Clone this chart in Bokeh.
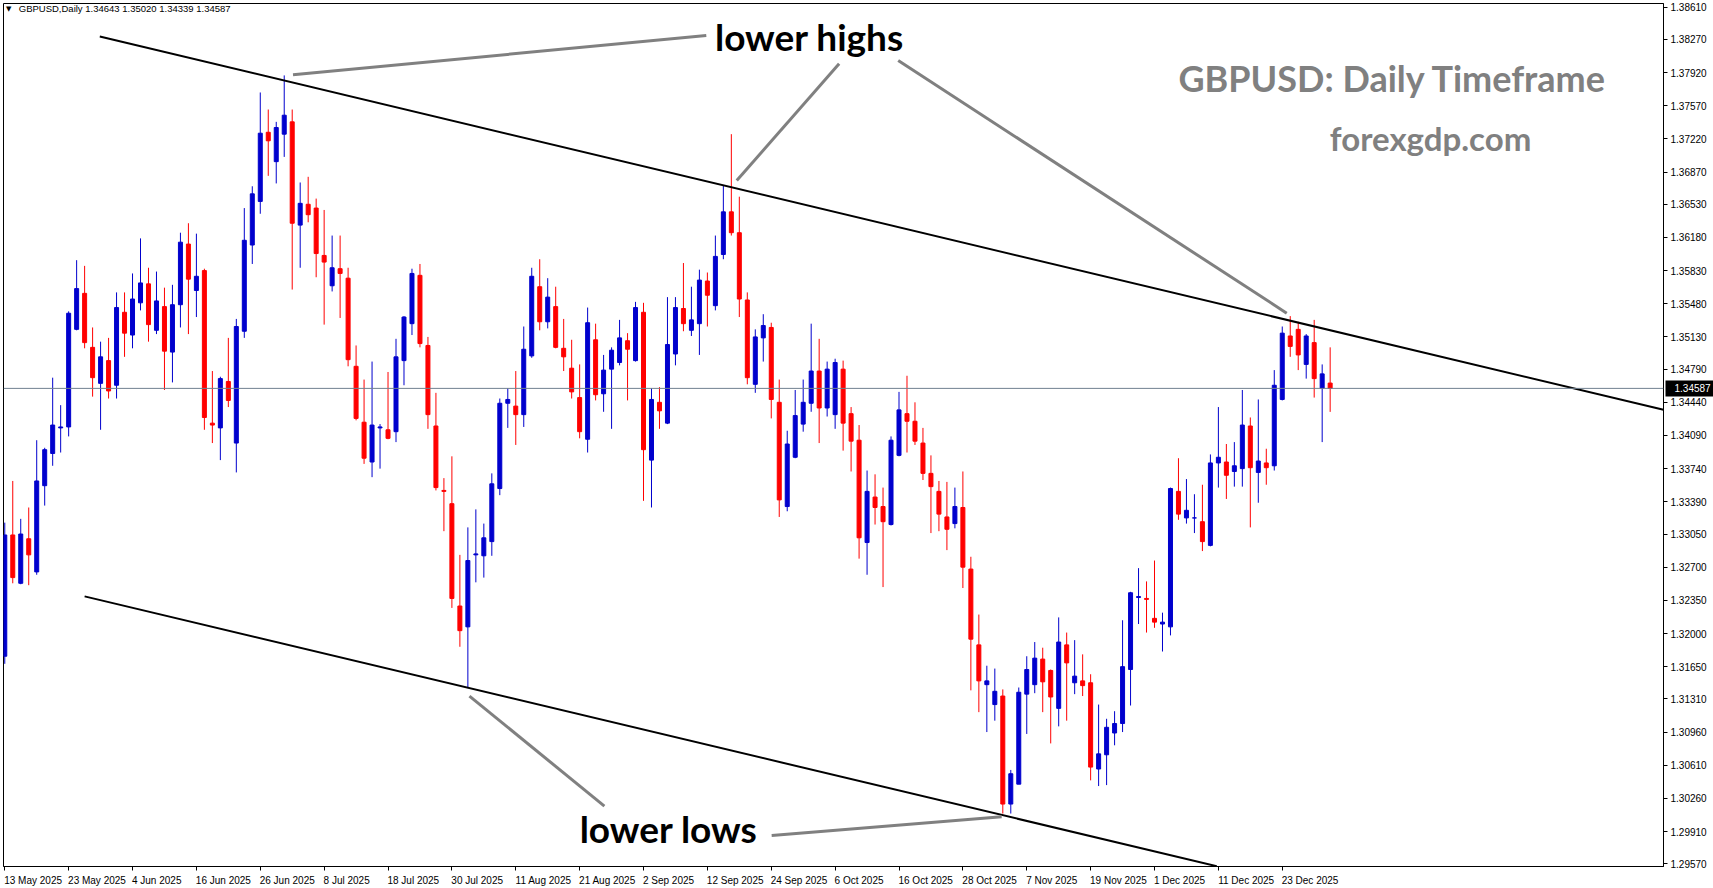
from bokeh.plotting import figure
from bokeh.models import (Range1d, FixedTicker, NumeralTickFormatter, Label, ColumnDataSource,
                          Span, LinearAxis)
from bokeh.embed import file_html
from bokeh.resources import INLINE

# ---- daily GBPUSD candles, 13 May 2025 .. 31 Dec 2025 ----
opens = [1.3176, 1.3304, 1.3253, 1.3300, 1.3265, 1.3356, 1.3390, 1.3417, 1.3418, 1.3521,
         1.3559, 1.3502, 1.3464, 1.3488, 1.3462, 1.3539, 1.3515, 1.3549, 1.3569, 1.3520,
         1.3545, 1.3497, 1.3547, 1.3611, 1.3562, 1.3583, 1.3422, 1.3417, 1.3466, 1.3401,
         1.3519, 1.3610, 1.3656, 1.3729, 1.3698, 1.3727, 1.3740, 1.3631, 1.3653, 1.3649,
         1.3599, 1.3567, 1.3585, 1.3575, 1.3482, 1.3423, 1.3381, 1.3417, 1.3415, 1.3413,
         1.3488, 1.3527, 1.3578, 1.3504, 1.3419, 1.3351, 1.3337, 1.3229, 1.3207, 1.3283,
         1.3282, 1.3297, 1.3353, 1.3443, 1.3440, 1.3431, 1.3493, 1.3566, 1.3529, 1.3545,
         1.3501, 1.3480, 1.3449, 1.3405, 1.3510, 1.3453, 1.3479, 1.3486, 1.3509, 1.3488,
         1.3539, 1.3383, 1.3444, 1.3422, 1.3495, 1.3543, 1.3520, 1.3527, 1.3572, 1.3546,
         1.3600, 1.3645, 1.3623, 1.3552, 1.3463, 1.3512, 1.3523, 1.3444, 1.3334, 1.3386,
         1.3421, 1.3443, 1.3477, 1.3438, 1.3431, 1.3479, 1.3432, 1.3404, 1.3296, 1.3344,
         1.3334, 1.3315, 1.3388, 1.3432, 1.3424, 1.3401, 1.3369, 1.3350, 1.3323, 1.3316,
         1.3333, 1.3268, 1.3188, 1.3146, 1.3125, 1.3134, 1.3020, 1.3041, 1.3136, 1.3146,
         1.3173, 1.3161, 1.3121, 1.3188, 1.3148, 1.3150, 1.3148, 1.3057, 1.3072, 1.3095,
         1.3105, 1.3162, 1.3238, 1.3237, 1.3216, 1.3210, 1.3207, 1.3350, 1.3322, 1.3322,
         1.3318, 1.3293, 1.3380, 1.3381, 1.3371, 1.3374, 1.3419, 1.3370, 1.3380, 1.3377,
         1.3447, 1.3514, 1.3521, 1.3484, 1.3507, 1.3459, 1.34643]
highs = [1.3317, 1.3361, 1.3321, 1.3333, 1.3404, 1.3396, 1.3470, 1.3441, 1.3540, 1.3594,
         1.3588, 1.3523, 1.3508, 1.3512, 1.3560, 1.3560, 1.3580, 1.3617, 1.3586, 1.3582,
         1.3565, 1.3568, 1.3623, 1.3633, 1.3622, 1.3585, 1.3477, 1.3471, 1.3512, 1.3532,
         1.3649, 1.3672, 1.3771, 1.3753, 1.3740, 1.3789, 1.3753, 1.3676, 1.3682, 1.3659,
         1.3647, 1.3620, 1.3620, 1.3586, 1.3504, 1.3468, 1.3487, 1.3421, 1.3476, 1.3511,
         1.3535, 1.3585, 1.3590, 1.3513, 1.3454, 1.3364, 1.3387, 1.3283, 1.3312, 1.3331,
         1.3316, 1.3369, 1.3448, 1.3459, 1.3477, 1.3524, 1.3586, 1.3595, 1.3575, 1.3566,
         1.3532, 1.3510, 1.3484, 1.3544, 1.3527, 1.3494, 1.3502, 1.3531, 1.3517, 1.3550,
         1.3549, 1.3459, 1.3460, 1.3555, 1.3555, 1.3591, 1.3566, 1.3584, 1.3581, 1.3620,
         1.3673, 1.3727, 1.3661, 1.3560, 1.3521, 1.3537, 1.3528, 1.3468, 1.3414, 1.3457,
         1.3468, 1.3527, 1.3511, 1.3487, 1.3490, 1.3488, 1.3439, 1.3420, 1.3372, 1.3368,
         1.3354, 1.3408, 1.3455, 1.3472, 1.3444, 1.3417, 1.3388, 1.3361, 1.3360, 1.3354,
         1.3371, 1.3281, 1.3220, 1.3166, 1.3163, 1.3141, 1.3056, 1.3143, 1.3176, 1.3191,
         1.3185, 1.3162, 1.3217, 1.3201, 1.3193, 1.3178, 1.3157, 1.3125, 1.3110, 1.3118,
         1.3214, 1.3244, 1.3269, 1.3255, 1.3277, 1.3222, 1.3354, 1.3385, 1.3363, 1.3347,
         1.3357, 1.3389, 1.3439, 1.3400, 1.3402, 1.3457, 1.3428, 1.3447, 1.3395, 1.3478,
         1.3524, 1.3535, 1.3529, 1.3516, 1.3531, 1.3484, 1.35020]
lows = [1.3168, 1.3253, 1.3252, 1.3251, 1.3262, 1.3335, 1.3377, 1.3391, 1.3408, 1.3520,
        1.3501, 1.3450, 1.3415, 1.3448, 1.3448, 1.3492, 1.3501, 1.3541, 1.3508, 1.3516,
        1.3457, 1.3465, 1.3523, 1.3516, 1.3534, 1.3415, 1.3401, 1.3383, 1.3439, 1.3370,
        1.3512, 1.3590, 1.3643, 1.3683, 1.3675, 1.3703, 1.3563, 1.3586, 1.3634, 1.3576,
        1.3526, 1.3561, 1.3533, 1.3482, 1.3425, 1.3379, 1.3365, 1.3374, 1.3405, 1.3402,
        1.3462, 1.3515, 1.3502, 1.3416, 1.3351, 1.3308, 1.3227, 1.3186, 1.3143, 1.3254,
        1.3259, 1.3282, 1.3346, 1.3417, 1.3399, 1.3418, 1.3491, 1.3520, 1.3522, 1.3501,
        1.3477, 1.3448, 1.3406, 1.3391, 1.3446, 1.3434, 1.3416, 1.3483, 1.3446, 1.3487,
        1.3340, 1.3333, 1.3416, 1.3421, 1.3483, 1.3519, 1.3514, 1.3494, 1.3524, 1.3541,
        1.3595, 1.3620, 1.3534, 1.3463, 1.3454, 1.3487, 1.3427, 1.3323, 1.3329, 1.3385,
        1.3413, 1.3434, 1.3401, 1.3429, 1.3416, 1.3393, 1.3371, 1.3279, 1.3262, 1.3315,
        1.3249, 1.3314, 1.3387, 1.3391, 1.3399, 1.3362, 1.3306, 1.3308, 1.3288, 1.3311,
        1.3248, 1.3140, 1.3117, 1.3096, 1.3108, 1.3010, 1.3010, 1.3041, 1.3094, 1.3137,
        1.3117, 1.3084, 1.3102, 1.3108, 1.3136, 1.3134, 1.3045, 1.3039, 1.3040, 1.3082,
        1.3096, 1.3124, 1.3210, 1.3201, 1.3206, 1.3181, 1.3198, 1.3320, 1.3316, 1.3306,
        1.3287, 1.3292, 1.3354, 1.3342, 1.3355, 1.3355, 1.3312, 1.3338, 1.3357, 1.3372,
        1.3446, 1.3492, 1.3478, 1.3469, 1.3449, 1.3402, 1.34339]
closes = [1.3304, 1.3259, 1.3305, 1.3283, 1.3361, 1.3394, 1.3420, 1.3418, 1.3538, 1.3564,
          1.3507, 1.3470, 1.3492, 1.3456, 1.3544, 1.3517, 1.3553, 1.3570, 1.3526, 1.3551,
          1.3498, 1.3547, 1.3613, 1.3574, 1.3577, 1.3428, 1.3420, 1.3469, 1.3446, 1.3524,
          1.3615, 1.3664, 1.3728, 1.3720, 1.3734, 1.3747, 1.3633, 1.3654, 1.3642, 1.3601,
          1.3592, 1.3586, 1.3580, 1.3489, 1.3427, 1.3385, 1.3420, 1.3418, 1.3406, 1.3492,
          1.3534, 1.3580, 1.3506, 1.3431, 1.3354, 1.3350, 1.3237, 1.3203, 1.3277, 1.3284,
          1.3301, 1.3358, 1.3443, 1.3447, 1.3431, 1.3500, 1.3577, 1.3529, 1.3555, 1.3502,
          1.3492, 1.3455, 1.3413, 1.3528, 1.3452, 1.3478, 1.3499, 1.3512, 1.3500, 1.3544,
          1.3394, 1.3447, 1.3435, 1.3505, 1.3544, 1.3527, 1.3531, 1.3573, 1.3557, 1.3598,
          1.3645, 1.3623, 1.3553, 1.3470, 1.3513, 1.3525, 1.3447, 1.3341, 1.3400, 1.3430,
          1.3444, 1.3477, 1.3438, 1.3479, 1.3486, 1.3422, 1.3403, 1.3301, 1.3350, 1.3333,
          1.3318, 1.3404, 1.3436, 1.3424, 1.3403, 1.3369, 1.3355, 1.3326, 1.3310, 1.3334,
          1.3270, 1.3194, 1.3150, 1.3150, 1.3139, 1.3020, 1.3052, 1.3138, 1.3162, 1.3174,
          1.3149, 1.3133, 1.3191, 1.3169, 1.3155, 1.3145, 1.3059, 1.3073, 1.3101, 1.3105,
          1.3165, 1.3243, 1.3239, 1.3236, 1.3212, 1.3212, 1.3353, 1.3326, 1.3330, 1.3322,
          1.3297, 1.3380, 1.3386, 1.3367, 1.3377, 1.3420, 1.3375, 1.3382, 1.3375, 1.3462,
          1.3517, 1.3503, 1.3494, 1.3514, 1.3469, 1.3474, 1.34587]

# date axis: one label every 8 daily bars
date_tick_bars = [0, 8, 16, 24, 32, 40, 48, 56, 64, 72, 80, 88, 96, 104, 112, 120, 128, 136, 144, 152, 160]
date_tick_labels = ["13 May 2025", "23 May 2025", "4 Jun 2025", "16 Jun 2025", "26 Jun 2025",
                    "8 Jul 2025", "18 Jul 2025", "30 Jul 2025", "11 Aug 2025", "21 Aug 2025",
                    "2 Sep 2025", "12 Sep 2025", "24 Sep 2025", "6 Oct 2025", "16 Oct 2025",
                    "28 Oct 2025", "7 Nov 2025", "19 Nov 2025", "1 Dec 2025", "11 Dec 2025",
                    "23 Dec 2025"]
price_ticks = [1.38610, 1.38270, 1.37920, 1.37570, 1.37220, 1.36870, 1.36530, 1.36180,
               1.35830, 1.35480, 1.35130, 1.34790, 1.34440, 1.34090, 1.33740, 1.33390,
               1.33050, 1.32700, 1.32350, 1.32000, 1.31650, 1.31310, 1.30960, 1.30610,
               1.30260, 1.29910, 1.29570]
last_price = 1.34587
header = "GBPUSD,Daily  1.34643 1.35020 1.34339 1.34587"

# channel lines (bar index, price)
upper_x = [11.9, 207.75]
upper_y = [1.38301, 1.34361]
lower_x = [10.0, 151.8]
lower_y = [1.32392, 1.29544]
# grey pointer lines
pointer_x = [[36.1, 87.86], [91.68, 104.5], [111.9, 160.56], [58.2, 75.1], [96.05, 124.86]]
pointer_y = [[1.37897, 1.38311], [1.36780, 1.38012], [1.38047, 1.35381], [1.31340, 1.30178], [1.29869, 1.30066]]

BLUE = "#0000CD"
RED = "#FF0000"
AX_FONT = "Liberation Sans"
AX_SIZE = 10          # px
PX_PER_BAR = 8.0
RIGHT_W = 47          # width of the price scale strip

# approximate Liberation Sans advance widths (per 1000 em)
_W = {" ": 278, ".": 278, "M": 833, "J": 500, "A": 667, "S": 667, "O": 778, "N": 722, "D": 722,
      "a": 556, "y": 500, "u": 556, "n": 556, "l": 222, "g": 556, "e": 556, "p": 556,
      "c": 500, "t": 278, "o": 556, "v": 500}


def text_px(s):
    return sum(_W.get(ch, 556) for ch in s) * AX_SIZE / 1000.0


# date labels start at their tick (label centre shifted by half its width)
label_centers = [b + (text_px(s) / 2.0 - 0.5) / PX_PER_BAR for b, s in zip(date_tick_bars, date_tick_labels)]

n = len(opens)
colors = [BLUE if c >= o else RED for o, c in zip(opens, closes)]
src = ColumnDataSource(dict(
    x=list(range(n)),
    top=[max(o, c) for o, c in zip(opens, closes)],
    bottom=[min(o, c) for o, c in zip(opens, closes)],
    high=highs, low=lows, color=colors,
))

p = figure(width=1713, height=888,
           x_range=Range1d(-0.16, 207.75), y_range=Range1d(1.29541, 1.38649),
           y_axis_location="right", toolbar_location=None, output_backend="svg",
           min_border_left=3, min_border_top=3, min_border_right=RIGHT_W, min_border_bottom=21,
           background_fill_color="white", border_fill_color="white")
p.grid.visible = False
p.outline_line_color = "black"
p.outline_line_width = 1

# bid line
p.add_layout(Span(location=last_price, dimension="width", line_color="#708090", line_width=1))

p.segment(x0="x", y0="low", x1="x", y1="high", line_color="color", line_width=1, source=src)
p.vbar(x="x", width=0.5, top="top", bottom="bottom", fill_color="color",
       line_color="color", line_width=1, source=src)

p.line(upper_x, upper_y, line_color="black", line_width=2)
p.line(lower_x, lower_y, line_color="black", line_width=2)
p.multi_line(pointer_x, pointer_y, line_color="#808080", line_width=3)

# ---- x axis: tick marks at the bars (minor), labels starting at the tick ----
xa = p.xaxis[0]
xa.ticker = FixedTicker(ticks=label_centers, minor_ticks=date_tick_bars)
xa.major_label_overrides = {c: s for c, s in zip(label_centers, date_tick_labels)}
xa.major_label_text_font = AX_FONT
xa.major_label_text_font_size = f"{AX_SIZE}px"
xa.major_label_text_color = "black"
xa.major_tick_line_color = None
xa.major_tick_in = 0
xa.major_tick_out = 0
xa.minor_tick_in = 0
xa.minor_tick_out = 4
xa.minor_tick_line_color = "black"
xa.major_label_standoff = 4
xa.axis_line_color = "black"

# ---- inner right axis: price tick marks and labels ----
TICK_OUT, STANDOFF = 4, 3
yb = p.yaxis[0]
yb.ticker = FixedTicker(ticks=price_ticks)
yb.formatter = NumeralTickFormatter(format="0.00000")
yb.major_label_text_font = AX_FONT
yb.major_label_text_font_size = f"{AX_SIZE}px"
yb.major_label_text_color = "black"
yb.major_tick_in = 0
yb.major_tick_out = TICK_OUT
yb.major_tick_line_color = "black"
yb.minor_tick_line_color = None
yb.minor_tick_in = 0
yb.minor_tick_out = 0
yb.major_label_standoff = STANDOFF
yb.axis_line_color = "black"

# ---- outer right axis: black tag with the last price ----
inner_w = TICK_OUT + STANDOFF + text_px("1.38610")
tag_tick_out = 4
tag = LinearAxis(ticker=FixedTicker(ticks=[last_price], minor_ticks=[last_price]),
                 formatter=NumeralTickFormatter(format="0.00000"),
                 major_tick_in=0, major_tick_out=0, major_tick_line_color=None,
                 minor_tick_in=int(round(inner_w)) + 1, minor_tick_out=tag_tick_out,
                 minor_tick_line_width=16, minor_tick_line_color="black",
                 axis_line_color=None,
                 major_label_standoff=int(round(1674 - (1713 - RIGHT_W) - inner_w - tag_tick_out)),
                 major_label_text_font=AX_FONT, major_label_text_font_size=f"{AX_SIZE}px",
                 major_label_text_color="white")
p.add_layout(tag, "right")

# header
p.add_layout(Label(x=0.5, y=1.38596, text="\u25BC", text_font="DejaVu Sans", text_font_size="7px",
                   text_align="center", text_baseline="middle", text_color="black"))
p.add_layout(Label(x=1.75, y=1.38596, text=header, text_font=AX_FONT, text_font_size="9.5px",
                   text_align="left", text_baseline="middle", text_color="black"))

# annotations
ANN_FONT = "Lato"
p.add_layout(Label(x=88.95, y=1.38300, text="lower highs", text_font=ANN_FONT, text_font_style="bold",
                   text_font_size="37px", text_align="left", text_baseline="middle", text_color="black"))
p.add_layout(Label(x=72.0, y=1.29940, text="lower lows", text_font=ANN_FONT, text_font_style="bold",
                   text_font_size="37px", text_align="left", text_baseline="middle", text_color="black"))
p.add_layout(Label(x=147.0, y=1.37861, text="GBPUSD: Daily Timeframe", text_font=ANN_FONT,
                   text_font_style="bold", text_font_size="36px", text_align="left",
                   text_baseline="middle", text_color="#808080"))
p.add_layout(Label(x=165.96, y=1.37227, text="forexgdp.com", text_font=ANN_FONT,
                   text_font_style="bold", text_font_size="33px", text_align="left",
                   text_baseline="middle", text_color="#808080"))

open("out.html", "w").write(file_html(p, INLINE))
